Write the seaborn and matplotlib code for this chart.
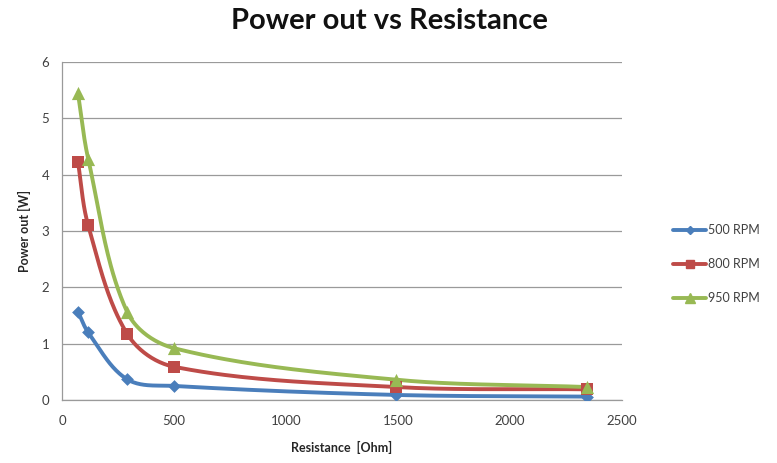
import numpy as np
import pandas as pd
import matplotlib
matplotlib.use("Agg")
import matplotlib.pyplot as plt
import seaborn as sns
from matplotlib.lines import Line2D

resistance = [71, 117, 290, 500, 1491, 2344]
p500 = [1.57, 1.20, 0.37, 0.25, 0.09, 0.06]
p800 = [4.23, 3.10, 1.18, 0.59, 0.23, 0.19]
p950 = [5.45, 4.28, 1.57, 0.92, 0.36, 0.23]
series_names = ["500 RPM", "800 RPM", "950 RPM"]
colors = ["#4A7EBB", "#BE4B48", "#98B954"]
markers = ["D", "s", "^"]
msizes = [6.5, 9, 9.5]
x_ticks = [0, 500, 1000, 1500, 2000, 2500]
y_ticks = [0, 1, 2, 3, 4, 5, 6]

XMAX, YMAX = 2500.0, 6.0
PXW, PXH = 560.0, 338.0

def smooth(xs, ys, n=40):
    # smoothed line through the points, handles scaled by segment length (screen space)
    P = np.column_stack([np.asarray(xs, float) / XMAX * PXW,
                         np.asarray(ys, float) / YMAX * PXH])
    m = len(P)
    T = np.zeros_like(P)
    for i in range(m):
        a = P[max(i - 1, 0)]
        b = P[min(i + 1, m - 1)]
        d = b - a
        T[i] = d / (np.linalg.norm(d) + 1e-12)
    out = []
    for i in range(m - 1):
        p1, p2 = P[i], P[i + 1]
        L = np.linalg.norm(p2 - p1)
        c1 = p1 + T[i] * L / 3.0
        c2 = p2 - T[i + 1] * L / 3.0
        t = np.linspace(0, 1, n)[:, None]
        seg = ((1 - t) ** 3) * p1 + 3 * ((1 - t) ** 2) * t * c1 + 3 * (1 - t) * t ** 2 * c2 + t ** 3 * p2
        out.append(seg if i == 0 else seg[1:])
    S = np.vstack(out)
    return S[:, 0] / PXW * XMAX, S[:, 1] / PXH * YMAX

sns.set_style("white")
plt.rcParams["font.family"] = ["Lato", "DejaVu Sans"]

fig = plt.figure(figsize=(7.77, 4.63), dpi=100)
ax = fig.add_axes([62 / 777, 63 / 463, 560 / 777, 338 / 463])

rows = []
for name, vals in zip(series_names, [p500, p800, p950]):
    for r, v in zip(resistance, vals):
        rows.append({"Resistance": r, "Power": v, "Series": name})
df = pd.DataFrame(rows)

handles = []
for name, col, mk, ms in zip(series_names, colors, markers, msizes):
    sub = df[df["Series"] == name]
    sx, sy = smooth(sub["Resistance"].values, sub["Power"].values)
    sm = pd.DataFrame({"x": sx, "y": sy})
    sns.lineplot(data=sm, x="x", y="y", ax=ax, color=col, lw=2.8, sort=False,
                 estimator=None, legend=False, zorder=3)
    sns.scatterplot(data=sub, x="Resistance", y="Power", ax=ax, color=col,
                    marker=mk, s=ms ** 2, edgecolor=col, linewidth=0, zorder=4,
                    legend=False)
    handles.append(Line2D([0], [0], color=col, lw=2.8, marker=mk,
                          markersize=ms * 0.7, markeredgecolor=col, label=name))

ax.set_xlim(0, 2500)
ax.set_ylim(0, 6)
ax.set_xticks(x_ticks)
ax.set_yticks(y_ticks)
ax.yaxis.grid(True, color="#9a9a9a", lw=0.9)
ax.xaxis.grid(False)
for s in ["top", "right"]:
    ax.spines[s].set_visible(False)
for s in ["left", "bottom"]:
    ax.spines[s].set_color("#9a9a9a")
    ax.spines[s].set_linewidth(0.9)
ax.tick_params(axis="both", which="major", direction="out", length=5,
               color="#9a9a9a", width=0.9, labelsize=9.5, labelcolor="#404040")
ax.tick_params(axis="x", pad=6)
ax.tick_params(axis="y", pad=4)
ax.set_xlabel("Resistance  [Ohm]", fontsize=9, fontweight="bold", labelpad=10)
ax.set_ylabel("Power out [W]", fontsize=9, fontweight="bold", labelpad=8)

fig.text(389 / 777, 1 - 21 / 463, "Power out vs Resistance", ha="center", va="center",
         fontsize=21, fontweight="bold", color="#111111")

fig.legend(handles=handles, loc="center left", bbox_to_anchor=(662 / 777, 1 - 264 / 463),
           frameon=False, fontsize=9, handlelength=2.6, labelspacing=1.75,
           handletextpad=0.2, labelcolor="#404040")

fig.savefig("out.png", dpi=100)
